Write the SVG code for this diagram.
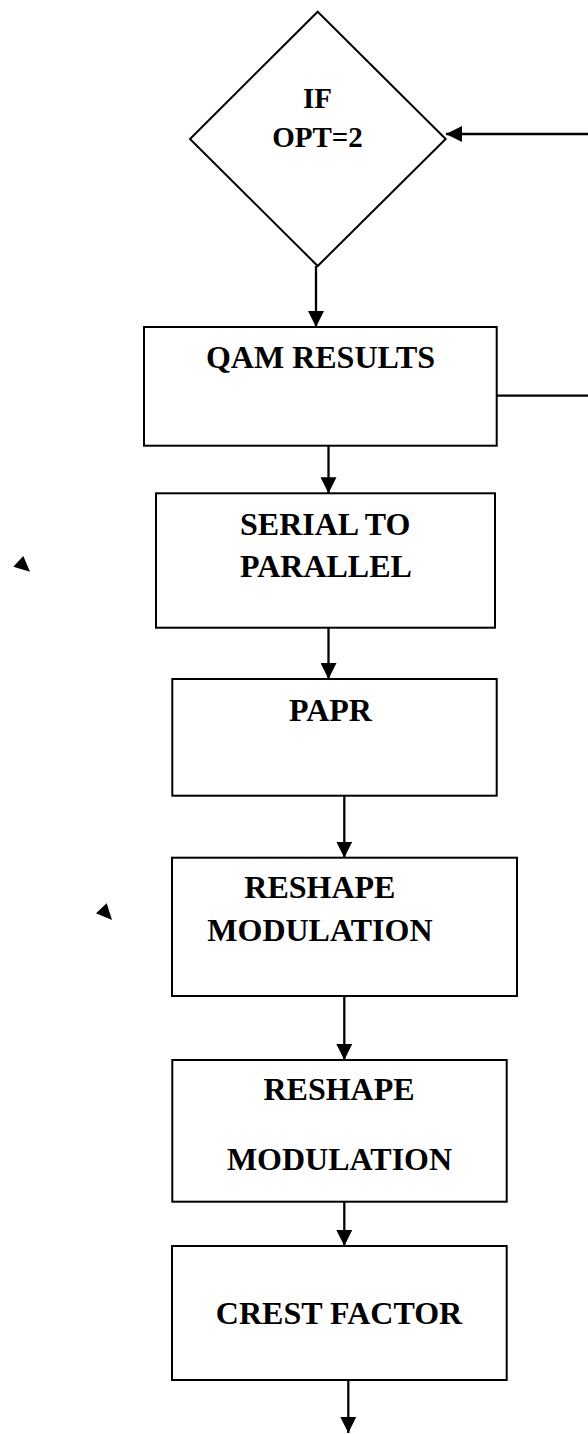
<svg xmlns="http://www.w3.org/2000/svg" width="588" height="1434" viewBox="0 0 588 1434">
<style>
.box{fill:#fff;stroke:#000;stroke-width:2}
.t{font-family:"Liberation Serif","Times New Roman",serif;font-weight:bold;fill:#000;font-size:32px}
.td{font-family:"Liberation Serif","Times New Roman",serif;font-weight:bold;fill:#000;font-size:29px}
.c{fill:none;stroke:#000;stroke-width:2.3}
</style>
<defs>
<marker id="ah" markerUnits="userSpaceOnUse" markerWidth="16" markerHeight="16" viewBox="0 0 15 15" refX="15" refY="7.5" orient="auto">
<path d="M0,0 L15,7.5 L0,15 z" fill="#000"/>
</marker>
</defs>
<rect width="588" height="1434" fill="#fff"/>
<g id="decision">
<polygon class="box" points="317.7,11.7 445.7,139 317.7,266 190,139"/>
<text class="td" x="317.5" y="108.3" text-anchor="middle">IF</text>
<text class="td" x="317.5" y="146.7" text-anchor="middle">OPT=2</text>
</g>
<g id="qam">
<rect class="box" x="144" y="327" width="352.7" height="118.7"/>
<text class="t" x="320.5" y="368" text-anchor="middle">QAM RESULTS</text>
</g>
<g id="serial">
<rect class="box" x="156" y="493.3" width="339" height="134.4"/>
<text class="t" x="240" y="535">SERIAL TO</text>
<text class="t" x="240" y="577.3">PARALLEL</text>
</g>
<g id="papr">
<rect class="box" x="172.3" y="679" width="324.4" height="116.7"/>
<text class="t" x="289" y="720.7">PAPR</text>
</g>
<g id="reshape1">
<rect class="box" x="172" y="857.7" width="345" height="138.3"/>
<text class="t" x="244.3" y="897.7">RESHAPE</text>
<text class="t" x="207.3" y="941">MODULATION</text>
</g>
<g id="reshape2">
<rect class="box" x="172.3" y="1060" width="334.4" height="141.7"/>
<text class="t" x="339" y="1100" text-anchor="middle">RESHAPE</text>
<text class="t" x="339.5" y="1170" text-anchor="middle">MODULATION</text>
</g>
<g id="crest">
<rect class="box" x="172" y="1246" width="334.7" height="134"/>
<text class="t" x="339" y="1324" text-anchor="middle">CREST FACTOR</text>
</g>
<g id="stray">
<polygon points="23.3,556 13.3,566.7 30,571.7" fill="#000"/>
<polygon points="106.7,903.3 96,913.3 112,920" fill="#000"/>
</g>
<g id="connectors">
<line class="c" x1="316" y1="266" x2="316" y2="327" marker-end="url(#ah)"/>
<line class="c" x1="328.5" y1="445.7" x2="328.5" y2="493.3" marker-end="url(#ah)"/>
<line class="c" x1="328.5" y1="627.7" x2="328.5" y2="679" marker-end="url(#ah)"/>
<line class="c" x1="344.3" y1="795.7" x2="344.3" y2="857.7" marker-end="url(#ah)"/>
<line class="c" x1="344.3" y1="996" x2="344.3" y2="1060" marker-end="url(#ah)"/>
<line class="c" x1="344.3" y1="1201.7" x2="344.3" y2="1246" marker-end="url(#ah)"/>
<line class="c" x1="348.3" y1="1380" x2="348.3" y2="1433" marker-end="url(#ah)"/>
<line class="c" x1="496.7" y1="395.7" x2="588" y2="395.7"/>
<line class="c" x1="588" y1="134" x2="446" y2="134" marker-end="url(#ah)"/>
</g>
</svg>
